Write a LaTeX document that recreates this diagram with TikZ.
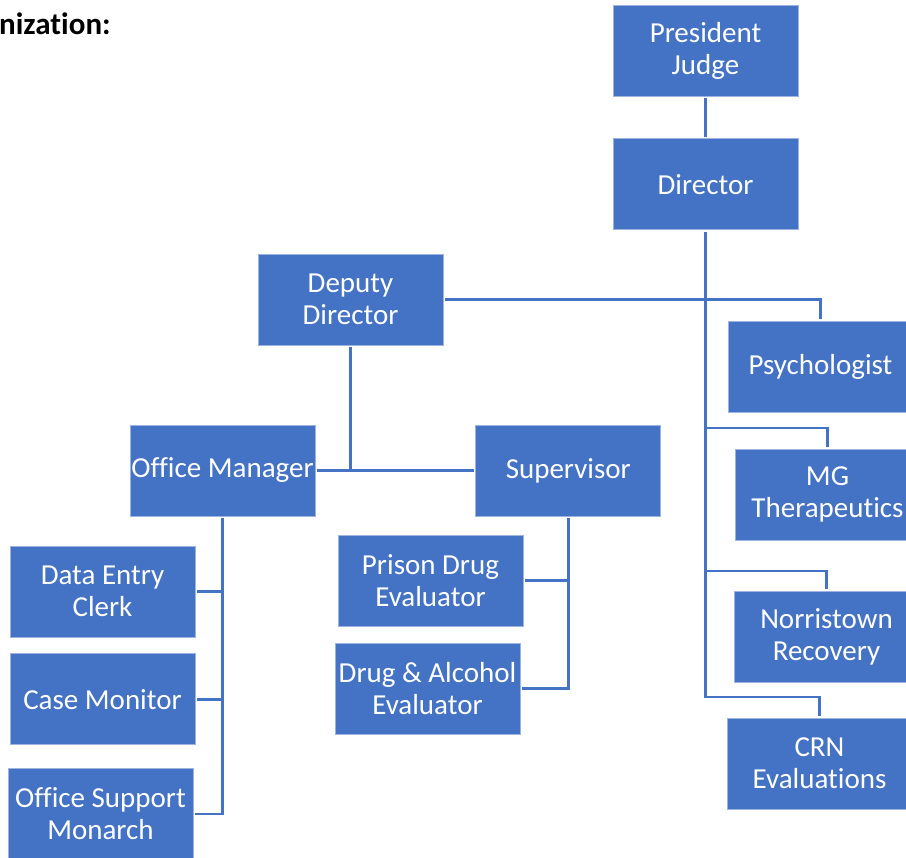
\documentclass[tikz,border=0pt]{standalone}
\usepackage{fontspec}
\setmainfont[Ligatures=NoCommon]{Carlito}
\usetikzlibrary{positioning}
\definecolor{boxblue}{HTML}{4472C4}
\definecolor{edgeblue}{HTML}{9DB3E0}
\definecolor{lineblue}{HTML}{4472C4}

\begin{document}
\begin{tikzpicture}[x=1pt,y=-1pt,
  role/.style={rectangle,fill=boxblue,draw=edgeblue,line width=0.8pt,minimum width=185pt,minimum height=91pt,inner sep=0pt,text=white,align=center,font=\fontsize{29}{32}\selectfont},
  link/.style={draw=lineblue,line width=2.8pt,shorten >=1.5pt,shorten <=1.5pt}]
  \useasboundingbox (0,0) rectangle (906,858);
  \clip (0,0) rectangle (906,858);

  \node[anchor=base west,inner sep=0pt,font=\fontsize{31}{34}\selectfont\bfseries] (title) at (-1,35) {nization:};

  \node[role] (pj) at (705.5,50.5) {President\\Judge};
  \node[role, below = 42pt of pj] (dir) {Director};
  \node[role] (dep) at (350.5,299.5) {Deputy\\Director};
  \node[role] (psy) at (820.5,366.5) {Psychologist};
  \node[role] (om) at (222.5,470.5) {Office Manager};
  \node[role, right = 160pt of om] (sup) {Supervisor};
  \node[role] (mg) at (827.5,494.5) {MG\\Therapeutics};
  \node[role] (de) at (102.5,591.5) {Data Entry\\Clerk};
  \node[role, below = 16pt of de] (cm) {Case Monitor};
  \node[role] (os) at (100.5,814) {Office Support\\Monarch};
  \node[role] (pde) at (430.5,580.5) {Prison Drug\\Evaluator};
  \node[role] (dae) at (427.5,688.5) {Drug \& Alcohol\\Evaluator};
  \node[role] (nr) at (826.5,636.5) {Norristown\\Recovery};
  \node[role] (crn) at (819.5,763.5) {CRN\\Evaluations};

  % branch points on the director's line
  \coordinate (mgb) at (705.5,428);
  \coordinate (nrb) at (705.5,571);
  \coordinate (crnb) at (705.5,697);

  \draw[link] (pj) -- (dir);
  \draw[link] (dir.south) -- (crnb) -| (crn.north);
  \draw[link] (dep.east) -| (psy.north);
  \draw[link] (mgb) -| (mg.north);
  \draw[link] (nrb) -| (nr.north);

  \draw[link] (dep.south) -- (dep.south |- om.east);
  \draw[link] (om.east) -- (sup.west);

  \draw[link] (de.east) -| (om.south);
  \draw[link] (cm.east) -| (om.south);
  \draw[link] (os.east) -| (om.south);

  \draw[link] (pde.east) -| (sup.south);
  \draw[link] (dae.east) -| (sup.south);
\end{tikzpicture}
\end{document}
